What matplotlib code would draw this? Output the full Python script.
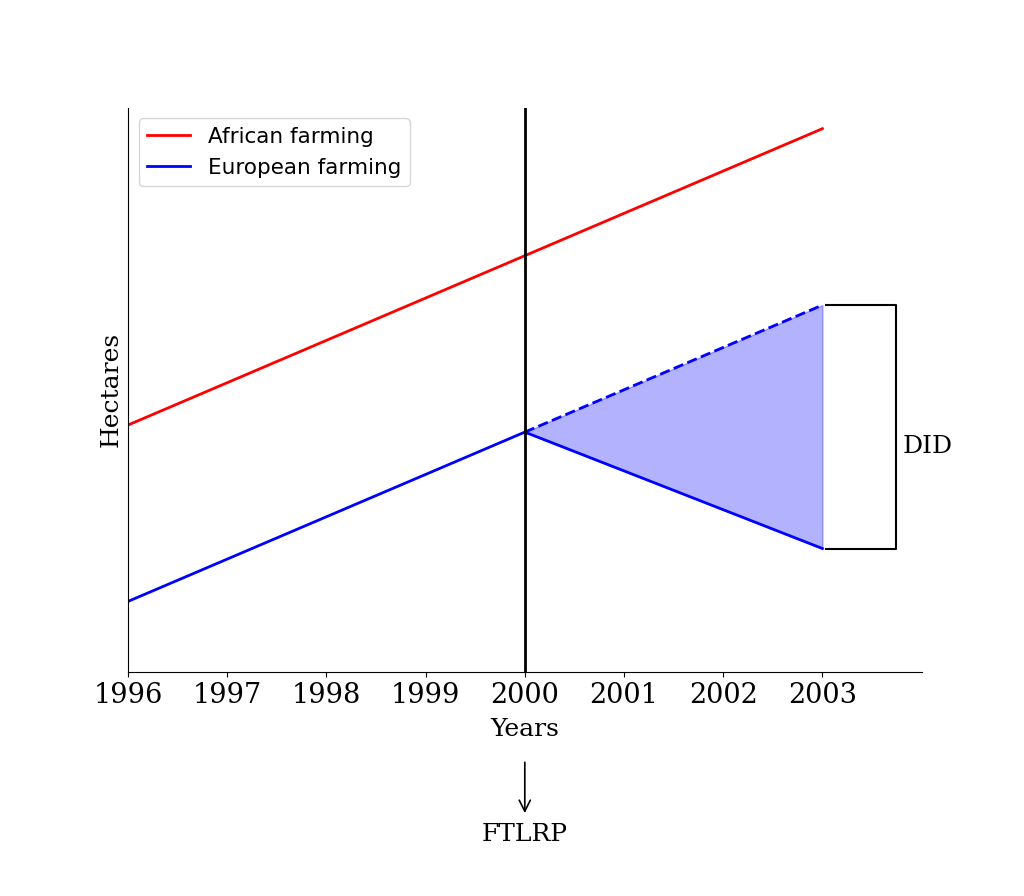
import matplotlib.pyplot as plt

years = [1996, 1997, 1998, 1999, 2000, 2001, 2002, 2003]
african = [35, 41, 47, 53, 59, 65, 71, 77]
european = [10, 16, 22, 28, 34, 28.5, 23, 17.5]
post_years = [2000, 2001, 2002, 2003]
counterfactual = [34, 40, 46, 52]
actual_post = [34, 28.5, 23, 17.5]

fig, ax = plt.subplots(figsize=(10.24, 8.96), dpi=100)
fig.subplots_adjust(left=0.125, right=0.9, top=0.88, bottom=0.25)

ax.plot(years, african, color='red', lw=2, label='African farming')
ax.plot(years, european, color='blue', lw=2, label='European farming')
ax.plot(post_years, counterfactual, color='blue', lw=2, ls='--')
ax.fill_between(post_years, actual_post, counterfactual, color='blue', alpha=0.3)
ax.axvline(2000, color='black', lw=2)

# DID bracket
ax.plot([2003.04, 2003.74, 2003.74, 2003.04],
        [counterfactual[-1], counterfactual[-1], actual_post[-1], actual_post[-1]],
        color='black', lw=1.5, clip_on=False)
ax.text(2003.81, (counterfactual[-1] + actual_post[-1]) / 2 - 2.8, 'DID',
        family='DejaVu Serif', fontsize=18, va='center', ha='left')

ax.annotate('', xy=(2000, -0.255), xytext=(2000, -0.155),
            xycoords=('data', 'axes fraction'),
            arrowprops=dict(arrowstyle='->', color='black', lw=1.2, mutation_scale=20))
ax.text(2000, -0.287, 'FTLRP', transform=ax.get_xaxis_transform(),
        family='DejaVu Serif', fontsize=18, ha='center', va='center')

ax.set_xlim(1996, 2004)
ax.set_ylim(0, 80)
ax.set_xticks(years)
ax.set_xticklabels([str(y) for y in years], family='DejaVu Serif', fontsize=19.5)
ax.set_yticks([])
ax.set_xlabel('Years', family='DejaVu Serif', fontsize=18, labelpad=7)
ax.set_ylabel('Hectares', family='DejaVu Serif', fontsize=18)
ax.spines['top'].set_visible(False)
ax.spines['right'].set_visible(False)
ax.legend(loc='upper left', fontsize=15.5)

fig.savefig('out.png')
